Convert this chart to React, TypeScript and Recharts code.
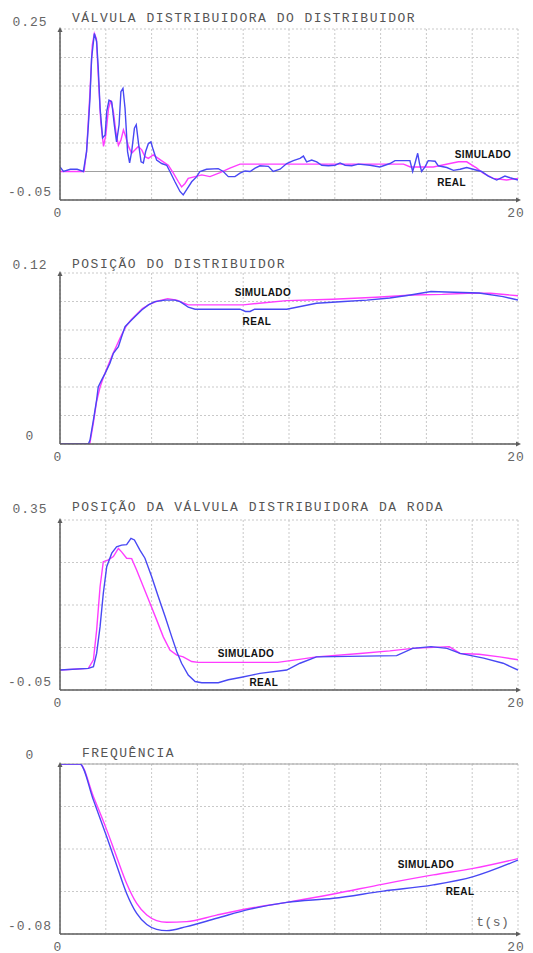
import React from "react";
import {
  LineChart,
  Line,
  XAxis,
  YAxis,
  CartesianGrid,
  ReferenceLine,
  ReferenceDot,
} from "recharts";

const timeTicks = [0, 2, 4, 6, 8, 10, 12, 14, 16, 18, 20];
const timeLabels = ["0", "20"];

// painel 1 - válvula distribuidora do distribuidor
const valvTicks = [-0.05, 0, 0.05, 0.1, 0.15, 0.2, 0.25];
const valvLabels = ["-0.05", "0.25"];
const valvRealT = [
  0, 0.15, 0.45, 0.75, 1.02, 1.16, 1.24, 1.31, 1.38, 1.5, 1.6, 1.67, 1.75, 1.86, 1.97, 2.04, 2.14,
  2.26, 2.37, 2.47, 2.58, 2.66, 2.75, 2.84, 2.95, 3.04, 3.13, 3.25, 3.33, 3.42, 3.54, 3.64, 3.74,
  3.86, 3.97, 4.07, 4.22, 4.44, 4.66, 4.8, 5.02, 5.24, 5.38, 5.53, 5.75, 5.97, 6.11, 6.4, 6.91,
  7.13, 7.35, 7.64, 7.86, 8.08, 8.3, 8.52, 8.73, 9.1, 9.31, 9.61, 9.9, 10.19, 10.48, 10.63, 10.77,
  10.99, 11.21, 11.43, 11.72, 12.01, 12.23, 12.45, 12.74, 13.03, 13.54, 13.97, 14.41, 14.63, 15.28,
  15.4, 15.5, 15.62, 15.7, 15.79, 15.94, 16.08, 16.38, 16.52, 16.89, 17.18, 17.47, 17.76, 18.12,
  18.41, 18.7, 19.07, 19.43, 19.65, 20,
];
const valvRealV = [
  0.008, 0.0, 0.004, 0.004, 0.0, 0.035, 0.082, 0.129, 0.199, 0.242, 0.228, 0.182, 0.111, 0.059,
  0.064, 0.105, 0.125, 0.122, 0.082, 0.052, 0.082, 0.14, 0.146, 0.111, 0.035, 0.015, 0.035, 0.076,
  0.082, 0.052, 0.017, 0.015, 0.035, 0.049, 0.052, 0.038, 0.02, 0.014, 0.011, 0.0, -0.018, -0.035,
  -0.041, -0.032, -0.018, -0.009, 0.0, 0.004, 0.005, 0.0, -0.009, -0.009, -0.003, 0.001, 0.0, 0.006,
  0.01, 0.009, 0.0, 0.004, 0.014, 0.019, 0.023, 0.027, 0.017, 0.02, 0.017, 0.011, 0.01, 0.011,
  0.015, 0.011, 0.01, 0.013, 0.011, 0.008, 0.014, 0.019, 0.019, 0.0, 0.014, 0.032, 0.014, 0.0,
  0.008, 0.019, 0.018, 0.01, 0.007, 0.002, 0.004, 0.007, 0.003, 0.0, -0.008, -0.015, -0.008,
  -0.011, -0.015,
];
const valvSimT = [
  0, 1.05, 1.16, 1.31, 1.41, 1.5, 1.59, 1.67, 1.78, 1.9, 2.0, 2.12, 2.22, 2.33, 2.44, 2.55, 2.66,
  2.77, 2.87, 2.99, 3.13, 3.28, 3.42, 3.57, 3.71, 3.86, 4.07, 4.29, 4.51, 4.73, 4.95, 5.17, 5.31,
  5.46, 5.6, 5.9, 6.19, 6.55, 6.99, 7.42, 7.86, 15.0, 15.3, 16.3, 17.03, 17.4, 17.76, 18.2, 18.48,
  18.92, 19.5, 20,
];
const valvSimV = [
  0, 0, 0.035, 0.14, 0.222, 0.242, 0.233, 0.169, 0.087, 0.044, 0.064, 0.111, 0.125, 0.105, 0.07,
  0.046, 0.055, 0.073, 0.061, 0.044, 0.032, 0.038, 0.044, 0.038, 0.026, 0.023, 0.029, 0.023, 0.017,
  0.011, -0.003, -0.018, -0.027, -0.021, -0.012, -0.009, -0.006, -0.009, -0.002, 0.006, 0.013,
  0.013, 0.008, 0.008, 0.014, 0.017, 0.017, 0.006, -0.003, -0.012, -0.015, -0.012,
];

// painel 2 - posição do distribuidor
const distTicks = [0, 0.02, 0.04, 0.06, 0.08, 0.1, 0.12];
const distLabels = ["0", "0.12"];
const distRealT = [
  0, 1.24, 1.31, 1.46, 1.6, 1.67, 1.82, 1.97, 2.18, 2.33, 2.55, 2.69, 2.84, 3.06, 3.28, 3.57, 3.86,
  4.15, 4.59, 5.02, 5.24, 5.46, 5.6, 5.9, 7.86, 8.1, 8.3, 8.5, 9.9, 11.2, 12.4, 13.4, 14.4, 15.3,
  16.2, 17.2, 18.3, 19.35, 20,
];
const distRealV = [
  0, 0, 0.0028, 0.0169, 0.031, 0.04, 0.045, 0.0496, 0.0566, 0.0637, 0.0683, 0.0753, 0.0823, 0.0859,
  0.0894, 0.094, 0.0976, 0.0999, 0.101, 0.101, 0.0999, 0.0976, 0.096, 0.0946, 0.0946, 0.093, 0.093,
  0.0946, 0.0946, 0.0988, 0.1, 0.101, 0.1025, 0.1046, 0.107, 0.1065, 0.106, 0.1034, 0.101,
];
const distSimT = [
  0, 1.3, 1.46, 1.6, 1.75, 1.9, 2.1, 2.3, 2.5, 2.7, 2.9, 3.1, 3.35, 3.6, 3.9, 4.2, 4.7, 5.1, 5.6,
  8.0, 8.7, 9.9, 11.9, 13.8, 15.4, 16.7, 17.8, 18.8, 20,
];
const distSimV = [
  0, 0, 0.015, 0.03, 0.04, 0.047, 0.055, 0.063, 0.07, 0.077, 0.083, 0.087, 0.091, 0.095, 0.098, 0.1,
  0.102, 0.101, 0.0976, 0.0976, 0.0988, 0.1006, 0.1016, 0.103, 0.1046, 0.105, 0.1058, 0.1058, 0.104,
];

// painel 3 - posição da válvula distribuidora da roda
const rodaTicks = [-0.05, 0.05, 0.15, 0.25, 0.35];
const rodaLabels = ["-0.05", "0.35"];
const rodaRealT = [
  0, 1.24, 1.46, 1.6, 1.75, 1.89, 2.04, 2.26, 2.47, 2.69, 2.91, 3.1, 3.25, 3.49, 3.71, 4.0, 4.29,
  4.59, 4.88, 5.1, 5.31, 5.6, 5.9, 6.19, 6.91, 7.35, 7.93, 8.37, 8.73, 9.9, 10.48, 11.2, 14.7, 15.4,
  16.2, 16.9, 17.47, 18.5, 19.35, 20,
];
const rodaRealV = [
  -0.003, 0.001, 0.005, 0.036, 0.099, 0.177, 0.24, 0.272, 0.287, 0.291, 0.292, 0.307, 0.303, 0.279,
  0.26, 0.217, 0.17, 0.123, 0.075, 0.04, 0.013, -0.015, -0.03, -0.033, -0.033, -0.026, -0.02,
  -0.015, -0.011, -0.003, 0.013, 0.028, 0.031, 0.048, 0.052, 0.048, 0.036, 0.025, 0.013, -0.003,
];
const rodaSimT = [
  0, 1.24, 1.46, 1.6, 1.75, 1.89, 2.11, 2.33, 2.55, 2.69, 2.91, 3.13, 3.35, 3.64, 3.93, 4.22, 4.51,
  4.8, 5.1, 5.38, 5.75, 6.04, 9.5, 10.3, 11.2, 13.1, 14.4, 15.4, 17.0, 17.47, 18.3, 19.2, 20,
];
const rodaSimV = [
  -0.003, 0.001, 0.021, 0.091, 0.193, 0.252, 0.256, 0.264, 0.283, 0.275, 0.26, 0.259, 0.232, 0.193,
  0.154, 0.115, 0.075, 0.044, 0.032, 0.028, 0.017, 0.015, 0.015, 0.021, 0.028, 0.036, 0.042, 0.048,
  0.052, 0.036, 0.034, 0.028, 0.021,
];

// painel 4 - frequência
const freqTicks = [-0.08, -0.06, -0.04, -0.02, 0];
const freqLabels = ["-0.08", "0"];
const freqT = [0, 0.87, 1.46, 2.04, 2.47, 2.91, 3.35, 3.79, 4.22, 4.66, 5.53, 6.84, 8.3, 9.9, 11.94, 14.12, 16.3, 18.05, 20];
const freqRealV = [
  0, 0, -0.017, -0.0342, -0.0475, -0.0609, -0.0703, -0.0755, -0.0778, -0.0784, -0.0765, -0.0726,
  -0.0683, -0.0651, -0.0632, -0.0598, -0.0569, -0.053, -0.0452,
];
const freqSimV = [
  0, 0, -0.0154, -0.031, -0.0436, -0.0562, -0.0656, -0.0711, -0.0737, -0.0745, -0.0742, -0.0711,
  -0.0679, -0.0651, -0.0612, -0.0565, -0.0522, -0.0491, -0.0445,
];

const BLUE = "#4848f4";
const MAGENTA = "#ff3cff";
const AXIS = "#5c5c5c";
const MONO = "'Liberation Mono', 'DejaVu Sans Mono', monospace";

const toPoints = (t: number[], v: number[]) => t.map((x, i) => ({ t: x, v: v[i] }));

type Note = { text: string; t: number; v: number; mono?: boolean };

type PanelProps = {
  top: number;
  plotH: number;
  title: string;
  titleX: number;
  titleY: number;
  domain: [number, number];
  ticks: number[];
  labels: string[];
  topDy: number;
  sim: { t: number; v: number }[];
  real: { t: number; v: number }[];
  notes: Note[];
  zeroLine?: boolean;
  curve?: "linear" | "monotone";
};

function Panel(p: PanelProps) {
  const h = 29 + p.plotH + 20;

  const yTick = (props: any) => {
    const val = props.payload.value;
    let label = "";
    let dy = -8;
    if (val === p.domain[0]) label = p.labels[0];
    if (val === p.domain[1]) {
      label = p.labels[1];
      dy = p.topDy;
    }
    if (!label) return <g />;
    return (
      <text
        x={30}
        y={props.y + dy}
        textAnchor="middle"
        dominantBaseline="central"
        fontFamily={MONO}
        fontSize={13}
        letterSpacing={1}
        fill="#666"
      >
        {label}
      </text>
    );
  };

  const xTick = (props: any) => {
    const val = props.payload.value;
    const label = val === 0 ? timeLabels[0] : val === 20 ? timeLabels[1] : "";
    if (!label) return <g />;
    return (
      <text
        x={props.x - 2}
        y={props.y + 5}
        textAnchor="middle"
        dominantBaseline="central"
        fontFamily={MONO}
        fontSize={13}
        letterSpacing={1}
        fill="#666"
      >
        {label}
      </text>
    );
  };

  return (
    <div style={{ position: "absolute", left: 0, top: p.top, width: 533, height: h }}>
      <LineChart width={533} height={h} margin={{ top: 29, right: 15, bottom: 0, left: 0 }}>
        <CartesianGrid stroke="#c9c9c9" strokeDasharray="2 2" />
        <XAxis
          type="number"
          dataKey="t"
          domain={[0, 20]}
          ticks={timeTicks}
          interval={0}
          height={20}
          allowDataOverflow
          tickLine={false}
          axisLine={{ stroke: AXIS, strokeWidth: 1.5 }}
          tick={xTick}
        />
        <YAxis
          type="number"
          domain={p.domain}
          ticks={p.ticks}
          interval={0}
          width={60}
          allowDataOverflow
          tickLine={false}
          axisLine={{ stroke: AXIS, strokeWidth: 1.5 }}
          tick={yTick}
        />
        {p.zeroLine && <ReferenceLine y={0} stroke="#a0a0a0" strokeWidth={1} />}
        <Line
          data={p.sim}
          dataKey="v"
          type={p.curve ?? "linear"}
          stroke={MAGENTA}
          strokeWidth={1.4}
          dot={false}
          isAnimationActive={false}
        />
        <Line
          data={p.real}
          dataKey="v"
          type={p.curve ?? "linear"}
          stroke={BLUE}
          strokeWidth={1.4}
          dot={false}
          isAnimationActive={false}
        />
        <ReferenceDot
          x={0}
          y={p.domain[1]}
          ifOverflow="visible"
          shape={(s: any) => (
            <path d={`M${s.cx - 2.5},${s.cy + 3} L${s.cx},${s.cy - 2} L${s.cx + 2.5},${s.cy + 3} Z`} fill={AXIS} />
          )}
        />
        <ReferenceDot
          x={20}
          y={p.domain[0]}
          ifOverflow="visible"
          shape={(s: any) => (
            <path d={`M${s.cx - 2},${s.cy - 2.5} L${s.cx + 3},${s.cy} L${s.cx - 2},${s.cy + 2.5} Z`} fill={AXIS} />
          )}
        />
        {p.notes.map((n) => (
          <ReferenceDot
            key={n.text}
            x={n.t}
            y={n.v}
            ifOverflow="visible"
            shape={(s: any) => (
              <text
                x={s.cx}
                y={s.cy}
                textAnchor="middle"
                dominantBaseline="central"
                fontFamily={n.mono ? MONO : "'Liberation Sans', Arial, sans-serif"}
                fontWeight={n.mono ? 400 : 700}
                fontSize={n.mono ? 13 : 10}
                letterSpacing={n.mono ? 0.5 : 0.4}
                fill={n.mono ? "#666" : "#111"}
              >
                {n.text}
              </text>
            )}
          />
        ))}
      </LineChart>
      <div
        style={{
          position: "absolute",
          left: p.titleX,
          top: p.titleY - 8,
          height: 16,
          lineHeight: "16px",
          fontFamily: MONO,
          fontSize: 13,
          letterSpacing: 1.5,
          color: "#555",
          whiteSpace: "nowrap",
        }}
      >
        {p.title}
      </div>
    </div>
  );
}

export default function App() {
  return (
    <div
      style={{
        position: "absolute",
        left: 0,
        top: 0,
        width: 533,
        height: 953,
        background: "#fff",
        overflow: "hidden",
      }}
    >
      <Panel
        top={0}
        plotH={171}
        title="VÁLVULA DISTRIBUIDORA DO DISTRIBUIDOR"
        titleX={72}
        titleY={19}
        domain={[-0.05, 0.25]}
        ticks={valvTicks}
        labels={valvLabels}
        topDy={-7}
        sim={toPoints(valvSimT, valvSimV)}
        real={toPoints(valvRealT, valvRealV)}
        zeroLine
        notes={[
          { text: "SIMULADO", t: 18.47, v: 0.029 },
          { text: "REAL", t: 17.1, v: -0.02 },
        ]}
      />
      <Panel
        top={244}
        plotH={171}
        title="POSIÇÃO DO DISTRIBUIDOR"
        titleX={72}
        titleY={21}
        domain={[0, 0.12]}
        ticks={distTicks}
        labels={distLabels}
        topDy={-8}
        sim={toPoints(distSimT, distSimV)}
        real={toPoints(distRealT, distRealV)}
        notes={[
          { text: "SIMULADO", t: 8.86, v: 0.106 },
          { text: "REAL", t: 8.6, v: 0.0863 },
        ]}
      />
      <Panel
        top={491}
        plotH={170}
        title="POSIÇÃO DA VÁLVULA DISTRIBUIDORA DA RODA"
        titleX={72}
        titleY={17}
        domain={[-0.05, 0.35]}
        ticks={rodaTicks}
        labels={rodaLabels}
        topDy={-11}
        sim={toPoints(rodaSimT, rodaSimV)}
        real={toPoints(rodaRealT, rodaRealV)}
        notes={[
          { text: "SIMULADO", t: 8.12, v: 0.037 },
          { text: "REAL", t: 8.9, v: -0.0335 },
        ]}
      />
      <Panel
        top={735}
        plotH={170}
        title="FREQUÊNCIA"
        titleX={82}
        titleY={19}
        domain={[-0.08, 0]}
        ticks={freqTicks}
        labels={freqLabels}
        topDy={-9}
        sim={toPoints(freqT, freqSimV)}
        real={toPoints(freqT, freqRealV)}
        zeroLine
        curve="monotone"
        notes={[
          { text: "SIMULADO", t: 15.98, v: -0.0475 },
          { text: "REAL", t: 17.47, v: -0.0602 },
          { text: "t(s)", t: 18.9, v: -0.0748, mono: true },
        ]}
      />
    </div>
  );
}
